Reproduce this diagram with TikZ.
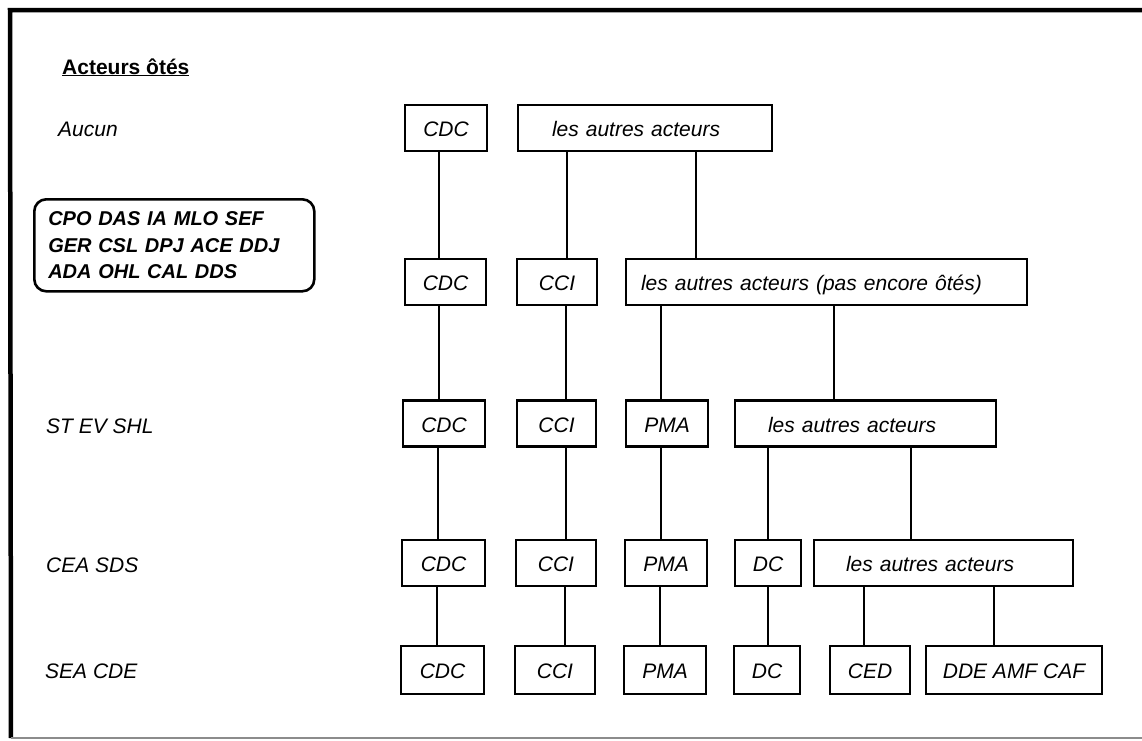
\documentclass[tikz,border=0pt]{standalone}
\usepackage{fontspec}
\setmainfont{Liberation Sans}
\begin{document}
\begin{tikzpicture}[x=1pt,y=-1pt,
  basefont/.style={font=\fontsize{21}{25}\selectfont\itshape},
  lbl/.style={basefont, anchor=west, inner sep=0pt},
  actbox/.style={draw, line width=2.9pt, minimum height=46pt, inner sep=0pt,
                 text height=18pt, text depth=1pt, basefont},
  restbox/.style n args={2}{actbox, align=left, inner xsep=#1, text width=#2},
  link/.style={line width=2.2pt},
  frameline/.style={line width=4.5pt}]

% page and frame
\useasboundingbox (0,0) rectangle (1142,740);
\fill[white] (0,0) rectangle (1142,740);
\coordinate (ftl) at (10,10);
\coordinate (ftr) at (1142,10);
\coordinate (fbl) at (11,738);
\coordinate (fbr) at (1142,738);
\draw[frameline] (ftr) -- (ftl) -- (fbl);
\draw[line width=1.2pt, black!45] (fbl) -- (fbr);

% heading and removed-actor labels
\node[anchor=base west, inner sep=0pt, font=\fontsize{21}{25}\selectfont\bfseries] (title) at (62,74) {\underline{Acteurs ôtés}};
\node[lbl] (l1) at (58,129.5) {Aucun};
\node[draw, line width=2.6pt, rounded corners=12pt, anchor=north west,
      minimum width=280pt, minimum height=92pt, inner xsep=14pt, inner ysep=0pt,
      align=left, text width=252pt,
      font=\fontsize{20}{26.5}\selectfont\bfseries\itshape] (l2) at (33,198)
      {CPO DAS IA MLO SEF\\GER CSL DPJ ACE DDJ\\ADA OHL CAL DDS};
\node[lbl] (l3) at (46,426) {ST EV SHL};
\node[lbl] (l4) at (46,565) {CEA SDS};
\node[lbl] (l5) at (45,671) {SEA CDE};

% row 1
\node[actbox, minimum width=82pt] (r1cdc) at (446,128) {CDC};
\node[restbox={34pt}{186pt}] (r1o) at (645,128) {les autres acteurs};

% row 2
\node[actbox, minimum width=81pt] (r2cdc) at (445.5,282) {CDC};
\node[actbox, minimum width=80pt] (r2cci) at (557,282) {CCI};
\node[restbox={15pt}{371pt}] (r2o) at (826.5,282) {les autres acteurs (pas encore ôtés)};

% row 3
\node[actbox, minimum width=82pt] (r3cdc) at (444,423.5) {CDC};
\node[actbox, minimum width=79pt] (r3cci) at (556.5,423.5) {CCI};
\node[actbox, minimum width=82pt] (r3pma) at (667,423.5) {PMA};
\node[restbox={33pt}{195pt}] (r3o) at (865.5,423.5) {les autres acteurs};

% row 4
\node[actbox, minimum width=83pt] (r4cdc) at (443.5,563) {CDC};
\node[actbox, minimum width=80pt] (r4cci) at (556,563) {CCI};
\node[actbox, minimum width=82pt] (r4pma) at (666,563) {PMA};
\node[actbox, minimum width=66pt] (r4dc) at (768,563) {DC};
\node[restbox={32pt}{195pt}] (r4o) at (943.5,563) {les autres acteurs};

% row 5
\node[actbox, minimum width=83pt, minimum height=48pt] (r5cdc) at (442.5,670) {CDC};
\node[actbox, minimum width=80pt, minimum height=48pt] (r5cci) at (555,670) {CCI};
\node[actbox, minimum width=82pt, minimum height=48pt] (r5pma) at (665,670) {PMA};
\node[actbox, minimum width=66pt, minimum height=48pt] (r5dc) at (767,670) {DC};
\node[actbox, minimum width=80pt, minimum height=48pt] (r5ced) at (870,670) {CED};
\node[actbox, minimum width=176pt, minimum height=48pt] (r5dde) at (1014,670) {DDE AMF CAF};

% links row 1 -> row 2
\draw[link] ([xshift=-7pt]r1cdc.south) -- ([xshift=-7pt]r1cdc.south |- r2cdc.north);
\draw[link] ([xshift=10pt]r2cci.north) -- ([xshift=10pt]r2cci.north |- r1o.south);
\draw[link] ([xshift=51pt]r1o.south) -- ([xshift=51pt]r1o.south |- r2o.north);

% links row 2 -> row 3
\draw[link] ([xshift=-6.5pt]r2cdc.south) -- ([xshift=-6.5pt]r2cdc.south |- r3cdc.north);
\draw[link] ([xshift=9pt]r2cci.south) -- ([xshift=9pt]r2cci.south |- r3cci.north);
\draw[link] ([xshift=-6pt]r3pma.north) -- ([xshift=-6pt]r3pma.north |- r2o.south);
\draw[link] ([xshift=-31.5pt]r3o.north) -- ([xshift=-31.5pt]r3o.north |- r2o.south);

% links row 3 -> row 4
\draw[link] ([xshift=-6pt]r3cdc.south) -- ([xshift=-6pt]r3cdc.south |- r4cdc.north);
\draw[link] ([xshift=9.5pt]r3cci.south) -- ([xshift=9.5pt]r3cci.south |- r4cci.north);
\draw[link] ([xshift=-6pt]r3pma.south) -- ([xshift=-6pt]r3pma.south |- r4pma.north);
\draw[link] (r4dc.north) -- (r4dc.north |- r3o.south);
\draw[link] ([xshift=-32.5pt]r4o.north) -- ([xshift=-32.5pt]r4o.north |- r3o.south);

% links row 4 -> row 5
\draw[link] ([xshift=-6.5pt]r4cdc.south) -- ([xshift=-6.5pt]r4cdc.south |- r5cdc.north);
\draw[link] ([xshift=9pt]r4cci.south) -- ([xshift=9pt]r4cci.south |- r5cci.north);
\draw[link] ([xshift=-6pt]r4pma.south) -- ([xshift=-6pt]r4pma.south |- r5pma.north);
\draw[link] (r4dc.south) -- (r4dc.south |- r5dc.north);
\draw[link] ([xshift=-6pt]r5ced.north) -- ([xshift=-6pt]r5ced.north |- r4o.south);
\draw[link] ([xshift=-20pt]r5dde.north) -- ([xshift=-20pt]r5dde.north |- r4o.south);
\end{tikzpicture}
\end{document}
